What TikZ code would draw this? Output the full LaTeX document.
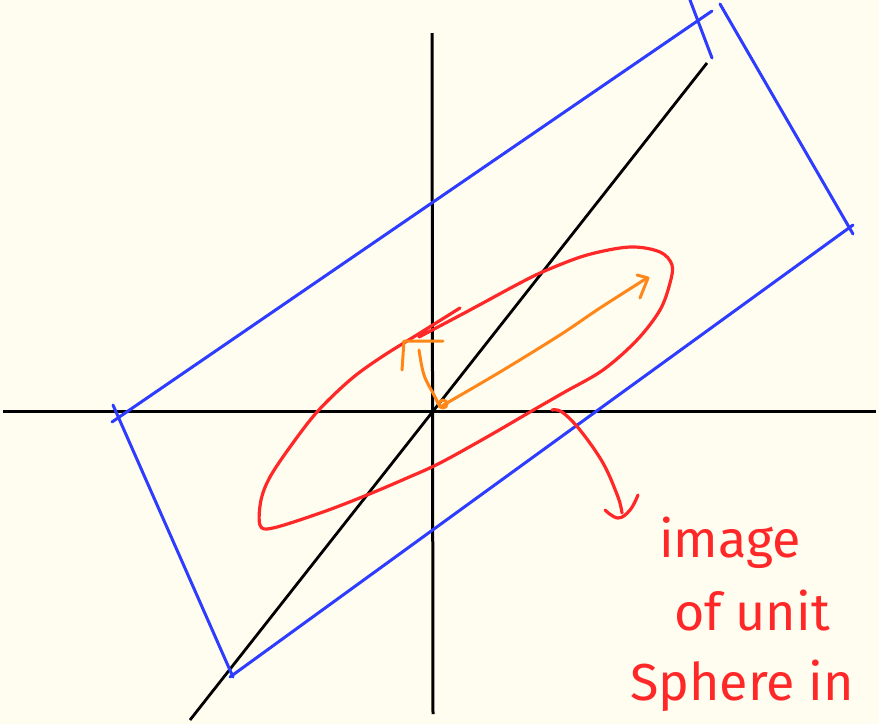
\documentclass[tikz,border=0pt]{standalone}
\usepackage{fontspec}
\setmainfont{Fira Sans}
\usepackage{tikz}
\usetikzlibrary{arrows.meta}
\usetikzlibrary{calc}

\definecolor{paper}{RGB}{255,253,240}
\definecolor{penred}{RGB}{255,40,40}
\definecolor{penblue}{RGB}{45,60,255}
\definecolor{penorange}{RGB}{255,135,25}

\begin{document}
\begin{tikzpicture}[
    x=1pt, y=-1pt,
    % Line styles
    axis/.style={line width=3pt, draw=black},
    box/.style={line width=3pt, draw=penblue, line cap=round},
    blob/.style={line width=3.2pt, draw=penred, line cap=round, line join=round},
    vec/.style={line width=3pt, draw=penorange, line cap=round, line join=round},
    % Handwritten note
    note/.style={text=penred, anchor=base, inner sep=0pt, font=\fontsize{52}{60}\selectfont}
]

    % =========================================================================
    % 1. PAPER AND AXES
    % =========================================================================
    \fill[paper] (0,0) rectangle (879,724);
    \useasboundingbox (0,0) rectangle (879,724);

    \coordinate (O) at (433,411);
    \draw[axis] (3,411) -- (876,411);
    \draw[axis] (432,33) -- (433,714);
    \draw[axis, line width=2.8pt] (190,720) -- (707,63);

    % =========================================================================
    % 2. BLUE BOX
    % =========================================================================
    \draw[box] (112,422) -- (712,11);
    \draw[box] (690,0) -- (712,58);
    \draw[box] (720,4) -- (853,234);
    \draw[box] (853,225) -- (230,677);
    \draw[box] (113,405) -- (233,677);

    % =========================================================================
    % 3. RED IMAGE OF THE SPHERE
    % =========================================================================
    \draw[blob] plot[smooth, tension=0.55] coordinates {
        (419,337) (470,310) (520,283) (547,270) (587,255) (630,247)
        (660,252) (672,265) (670,283) (660,310) (637,340) (603,370)
        (563,393) (530,412) (487,437) (440,463) (407,478) (367,495)
        (323,512) (273,528) (260,525) (261,500) (270,477) (290,447)
        (317,412) (350,380) (380,358) (420,333) (460,308)};

    % --- pointer to the note ---
    \draw[blob] plot[smooth, tension=0.6] coordinates {
        (552,410) (562,412) (580,430) (603,463) (618,497) (622,513)};
    \draw[blob] plot[smooth, tension=0.7] coordinates {
        (605,510) (618,518) (630,510) (638,495)};

    % =========================================================================
    % 4. ORANGE VECTORS
    % =========================================================================
    \draw[vec] (443,404) circle (4);
    \draw[vec] plot[smooth, tension=0.5] coordinates {
        (440,407) (500,372) (560,335) (600,308) (647,278)};
    \draw[vec] (637,275) -- (648,278) -- (640,298);
    \draw[vec] plot[smooth, tension=0.6] coordinates {
        (419,350) (424,375) (434,395) (440,407)};
    \draw[vec] (402,370) -- (404,341) -- (443,341);

    % =========================================================================
    % 5. NOTE
    % =========================================================================
    \node[note] (image) at (730,557) {image};
    \node[note] (ofunit) at (752,630) {of unit};
    \node[note] (sphere) at (742,700) {Sphere in};

\end{tikzpicture}
\end{document}
